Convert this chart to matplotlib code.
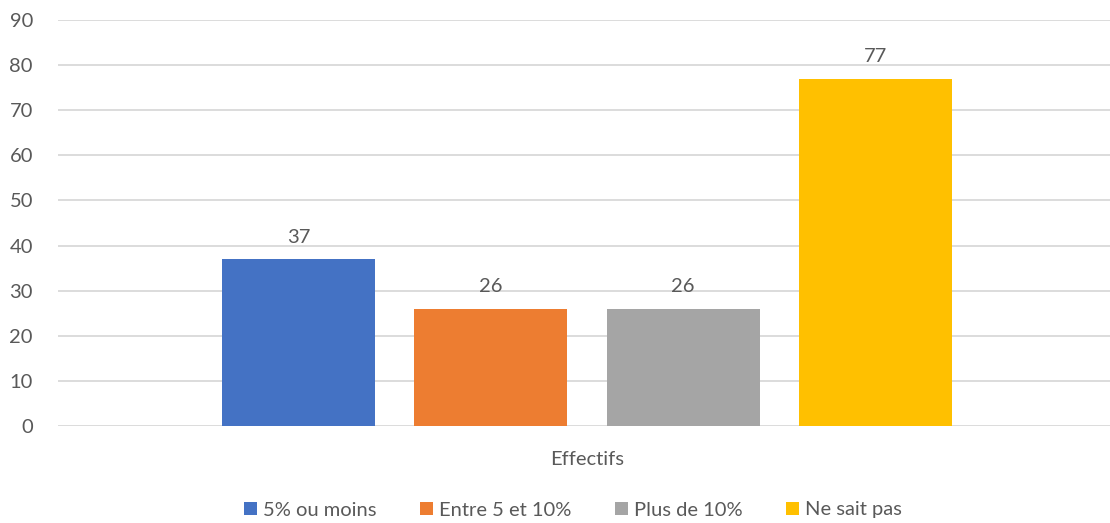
import matplotlib
matplotlib.use("Agg")
import matplotlib.pyplot as plt
from matplotlib.patches import Patch

plt.rcParams["font.family"] = ["Lato", "DejaVu Sans"]

# ===== data =====
CATEGORY = "Effectifs"
SERIES = ["5% ou moins", "Entre 5 et 10%", "Plus de 10%", "Ne sait pas"]
VALUES = [37, 26, 26, 77]
COLORS = ["#4472C4", "#ED7D31", "#A5A5A5", "#FFC000"]

TXT = "#595959"
GRID = "#D9D9D9"
FS = 14.5

fig = plt.figure(figsize=(11.10, 5.23), dpi=100)
ax = fig.add_axes([58/1110, 97/523, 1058/1110, 406/523])

# clustered bars around the single category at x=0
step, width = 0.1818, 0.1446
n = len(SERIES)
for i, (name, v, c) in enumerate(zip(SERIES, VALUES, COLORS)):
    x = (i - (n - 1) / 2) * step
    ax.bar(x, v, width=width, color=c, zorder=3, label=name)
    ax.text(x, v + 3.0, f"{v}", ha="center", va="bottom", fontsize=FS, color=TXT)

ax.set_xlim(-0.5, 0.5)
ax.set_ylim(0, 90)
ax.set_yticks(range(0, 91, 10))
ax.set_xticks([0])
ax.set_xticklabels([CATEGORY])
ax.grid(axis="y", color=GRID, lw=1.3, zorder=0)
for s in ax.spines.values():
    s.set_visible(False)
ax.tick_params(axis="both", length=0, labelsize=FS, colors=TXT)
ax.tick_params(axis="y", pad=18)
ax.tick_params(axis="x", pad=18)

handles = [Patch(facecolor=c, edgecolor="none") for c in COLORS]
fig.legend(handles, SERIES, loc="center", bbox_to_anchor=(573/1110, 13/523),
           ncol=n, frameon=False, fontsize=FS, handlelength=0.65, handleheight=0.65,
           handletextpad=0.3, columnspacing=2.15, labelcolor=TXT)

fig.savefig("out.png", dpi=100)
